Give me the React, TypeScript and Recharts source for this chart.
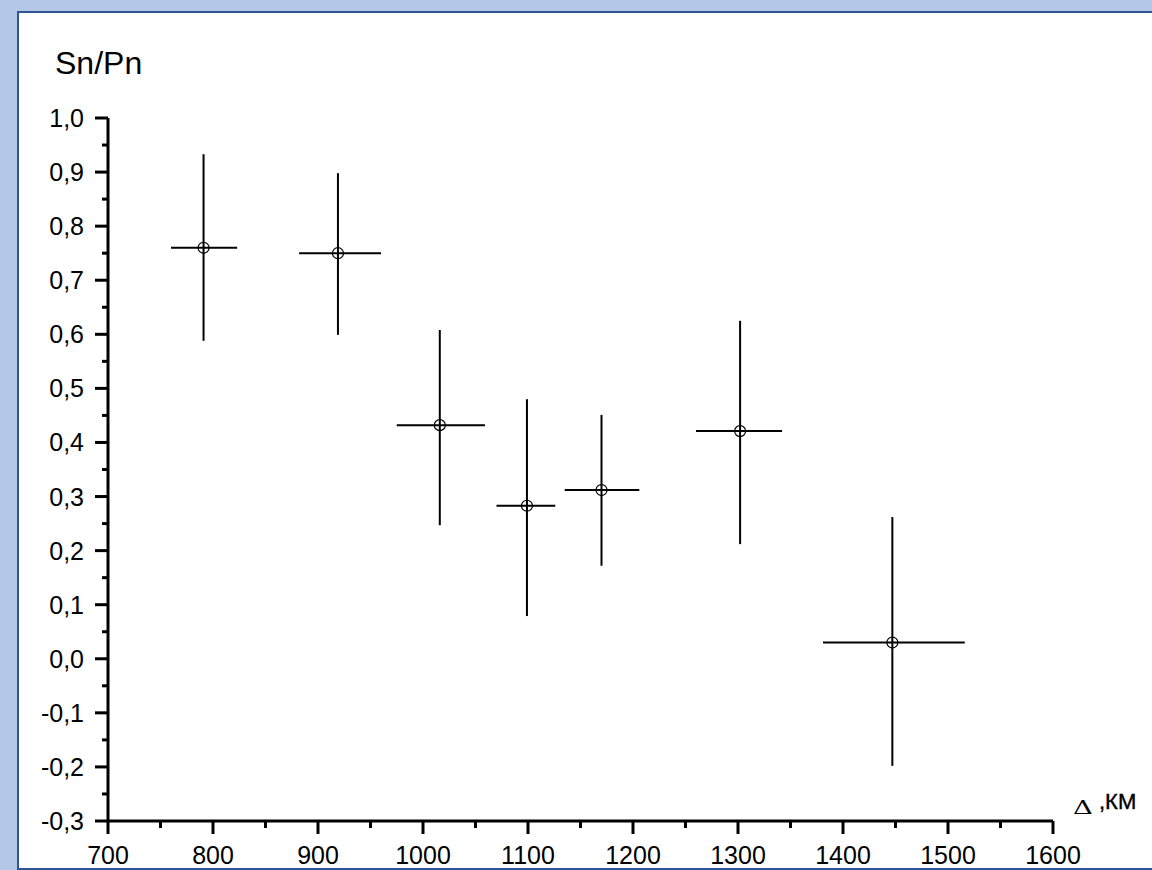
import React from "react";
import {
  ScatterChart,
  Scatter,
  XAxis,
  YAxis,
  ErrorBar,
  Customized,
} from "recharts";

// distance (km) and Sn/Pn ratio, with the ends of the error crosses
const distance = [791, 919, 1016, 1099, 1170, 1302, 1447];
const ratio = [0.76, 0.75, 0.432, 0.283, 0.312, 0.421, 0.03];
const distLow = [760, 882, 975, 1070, 1135, 1260, 1381];
const distHigh = [823, 960, 1059, 1126, 1206, 1342, 1516];
const ratioLow = [0.588, 0.599, 0.247, 0.079, 0.172, 0.212, -0.198];
const ratioHigh = [0.933, 0.898, 0.608, 0.48, 0.451, 0.625, 0.262];

const xMajor = [700, 800, 900, 1000, 1100, 1200, 1300, 1400, 1500, 1600];
const yMajor = [-0.3, -0.2, -0.1, 0, 0.1, 0.2, 0.3, 0.4, 0.5, 0.6, 0.7, 0.8, 0.9, 1.0];

const xTicks = xMajor.flatMap((v, i) => (i < xMajor.length - 1 ? [v, v + 50] : [v]));
const yTicks = yMajor.flatMap((v, i) =>
  i < yMajor.length - 1 ? [v, Math.round((v + 0.05) * 100) / 100] : [v]
);

const points = distance.map((x, i) => ({
  x,
  y: ratio[i],
  xErr: [x - distLow[i], distHigh[i] - x],
  yErr: [ratio[i] - ratioLow[i], ratioHigh[i] - ratio[i]],
}));

const FONT = "'Liberation Sans', Arial, sans-serif";

const YTick = ({ x, y, payload }: any) => {
  const v = payload.value;
  const major = Math.round(v * 100) % 10 === 0;
  return (
    <g>
      <line x1={x - (major ? 13 : 6)} x2={x} y1={y} y2={y} stroke="#000" strokeWidth={3} />
      {major && (
        <text
          x={x - 24}
          y={y}
          textAnchor="end"
          dominantBaseline="central"
          fontSize={25}
          fontFamily={FONT}
          fill="#000"
        >
          {v.toFixed(1).replace(".", ",")}
        </text>
      )}
    </g>
  );
};

const XTick = ({ x, y, payload }: any) => {
  const v = payload.value;
  const major = v % 100 === 0;
  return (
    <g>
      <line x1={x} x2={x} y1={y} y2={y + (major ? 13 : 7)} stroke="#000" strokeWidth={3} />
      {major && (
        <text x={x} y={y + 43} textAnchor="middle" fontSize={25} fontFamily={FONT} fill="#000">
          {v}
        </text>
      )}
    </g>
  );
};

const Marker = (props: any) => {
  const { cx, cy } = props;
  return <circle cx={cx} cy={cy} r={5.5} fill="none" stroke="#000" strokeWidth={1.2} />;
};

const Labels = () => (
  <g>
    <text x={55} y={74} fontSize={32} fontFamily={FONT} fill="#000">
      Sn/Pn
    </text>
    <text
      x={1073}
      y={814}
      fontSize={22}
      fontFamily="'DejaVu Serif', serif"
      fill="#000"
      transform="translate(1073 814) scale(1.25 0.85) translate(-1073 -814)"
    >
      Δ
    </text>
    <text x={1099} y={809} fontSize={22} fontFamily={FONT} fill="#000" stroke="#000" strokeWidth={0.4}>
      ,КМ
    </text>
  </g>
);

export default function App() {
  return (
    <div style={{ position: "relative", width: 1152, height: 870, background: "#b4c7e7", overflow: "hidden" }}>
      <style>{"html,body{margin:0;overflow:hidden}"}</style>
      <div
        style={{
          position: "absolute",
          left: 17,
          top: 11,
          width: 1200,
          height: 855,
          background: "#fff",
          borderTop: "2px solid #2f5597",
          borderLeft: "2px solid #2f5597",
          borderBottom: "2px solid #2f5597",
        }}
      />
      <div style={{ position: "absolute", left: 0, top: 0 }}>
        <ScatterChart width={1152} height={870} margin={{ top: 118, right: 99, bottom: 19, left: 48 }}>
          <XAxis
            type="number"
            dataKey="x"
            domain={[700, 1600]}
            ticks={xTicks}
            interval={0}
            height={30}
            tick={<XTick />}
            tickLine={false}
            tickSize={0}
            tickMargin={0}
            axisLine={{ stroke: "#000", strokeWidth: 3 }}
          />
          <YAxis
            type="number"
            dataKey="y"
            domain={[-0.3, 1.0]}
            ticks={yTicks}
            interval={0}
            width={60}
            tick={<YTick />}
            tickLine={false}
            tickSize={0}
            tickMargin={0}
            axisLine={{ stroke: "#000", strokeWidth: 3 }}
          />
          <Scatter data={points} isAnimationActive={false} shape={<Marker />}>
            <ErrorBar dataKey="xErr" direction="x" width={0} stroke="#000" strokeWidth={2} isAnimationActive={false} />
            <ErrorBar dataKey="yErr" direction="y" width={0} stroke="#000" strokeWidth={2} isAnimationActive={false} />
          </Scatter>
          <Customized component={<Labels />} />
        </ScatterChart>
      </div>
    </div>
  );
}
